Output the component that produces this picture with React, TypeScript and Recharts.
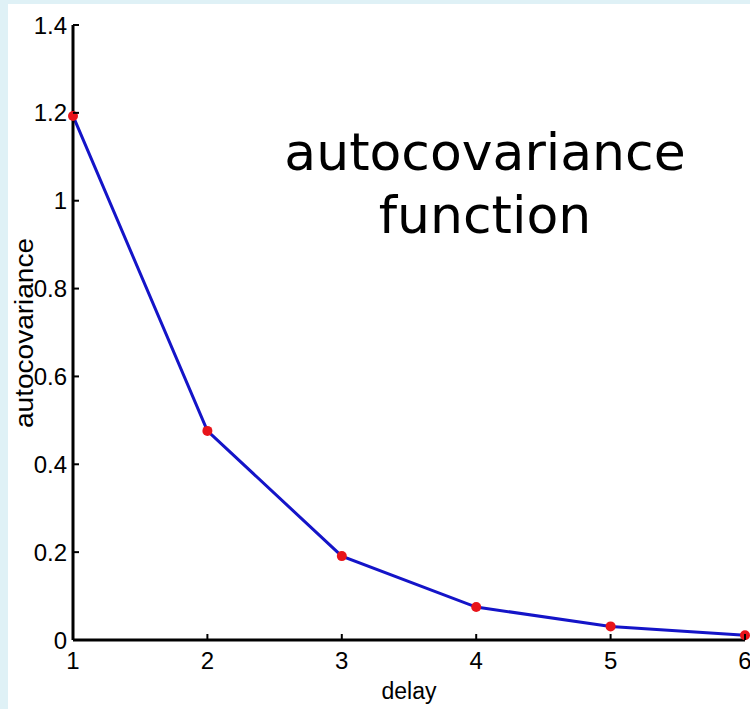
import React from 'react';
import { LineChart, Line, XAxis, YAxis } from 'recharts';

const delays = [1, 2, 3, 4, 5, 6];
const autocov = [1.193, 0.476, 0.191, 0.075, 0.031, 0.011];
const xTicks = [1, 2, 3, 4, 5, 6];
const yTicks = [0, 0.2, 0.4, 0.6, 0.8, 1, 1.2, 1.4];
const xLabel = 'delay';
const yLabel = 'autocovariance';
const annotationLines = ['autocovariance', 'function'];

const data = delays.map((d, i) => ({ delay: d, value: autocov[i] }));

const TICK_LEN = 6;
const tickFont = {
  fontFamily: '"Liberation Sans", Arial, sans-serif',
  fontSize: 24,
  fill: '#000',
};

const BottomTick = (props: any) => {
  const { x, y, payload } = props;
  return (
    <g>
      <line x1={x} x2={x} y1={y} y2={y - TICK_LEN} stroke="#000" strokeWidth={2} />
      <text x={x} y={y + 29} textAnchor="middle" {...tickFont}>
        {String(payload.value)}
      </text>
    </g>
  );
};

const TopTick = (props: any) => {
  const { x, y } = props;
  return <line x1={x} x2={x} y1={y} y2={y + TICK_LEN} stroke="#000" strokeWidth={2} />;
};

const LeftTick = (props: any) => {
  const { x, y, payload } = props;
  return (
    <g>
      <line x1={x} x2={x + TICK_LEN} y1={y} y2={y} stroke="#000" strokeWidth={2} />
      <text x={x - 6} y={y + 8.5} textAnchor="end" {...tickFont}>
        {String(payload.value)}
      </text>
    </g>
  );
};

const RightTick = (props: any) => {
  const { x, y } = props;
  return <line x1={x} x2={x - TICK_LEN} y1={y} y2={y} stroke="#000" strokeWidth={2} />;
};

export default function App() {
  return (
    <div
      style={{
        position: 'absolute',
        left: 0,
        top: 0,
        width: 750,
        height: 709,
        background: '#dff1f6',
        overflow: 'hidden',
      }}
    >
      <div
        style={{
          position: 'absolute',
          left: 8,
          top: 4,
          width: 742,
          height: 705,
          background: '#ffffff',
        }}
      />
      <div style={{ position: 'absolute', left: 0, top: 0 }}>
        <LineChart
          width={750}
          height={709}
          data={data}
          margin={{ top: 25, right: 5, bottom: 0, left: 8 }}
        >
          <XAxis
            xAxisId="bottom"
            dataKey="delay"
            type="number"
            domain={[1, 6]}
            ticks={xTicks}
            interval={0}
            height={69}
            tickSize={0}
            tickMargin={0}
            tickLine={false}
            axisLine={{ stroke: '#000', strokeWidth: 3 }}
            tick={<BottomTick />}
          />
          <XAxis
            xAxisId="top"
            orientation="top"
            dataKey="delay"
            type="number"
            domain={[1, 6]}
            ticks={xTicks}
            interval={0}
            height={0}
            tickSize={0}
            tickMargin={0}
            tickLine={false}
            axisLine={{ stroke: '#000', strokeWidth: 3 }}
            tick={<TopTick />}
          />
          <YAxis
            yAxisId="left"
            type="number"
            domain={[0, 1.4]}
            ticks={yTicks}
            interval={0}
            width={65}
            tickSize={0}
            tickMargin={0}
            tickLine={false}
            axisLine={{ stroke: '#000', strokeWidth: 3 }}
            tick={<LeftTick />}
          />
          <YAxis
            yAxisId="right"
            orientation="right"
            type="number"
            domain={[0, 1.4]}
            ticks={yTicks}
            interval={0}
            width={0}
            tickSize={0}
            tickMargin={0}
            tickLine={false}
            axisLine={{ stroke: '#000', strokeWidth: 3 }}
            tick={<RightTick />}
          />
          <Line
            xAxisId="bottom"
            yAxisId="left"
            type="linear"
            dataKey="value"
            stroke="#1414c8"
            strokeWidth={3}
            dot={{ r: 5, fill: '#e8141a', stroke: 'none' }}
            activeDot={false}
            isAnimationActive={false}
          />
        </LineChart>
      </div>
      <svg
        width={750}
        height={709}
        style={{ position: 'absolute', left: 0, top: 0, pointerEvents: 'none' }}
      >
        <text
          x={409}
          y={699}
          textAnchor="middle"
          fontFamily='"Liberation Sans", Arial, sans-serif'
          fontSize={23}
          fill="#000"
        >
          {xLabel}
        </text>
        <text
          transform="translate(33, 333) rotate(-90)"
          textAnchor="middle"
          fontFamily='"Liberation Sans", Arial, sans-serif'
          fontSize={25}
          textLength={190}
          lengthAdjust="spacingAndGlyphs"
          fill="#000"
        >
          {yLabel}
        </text>
        {annotationLines.map((line, i) => (
          <text
            key={line}
            x={485}
            y={170 + i * 63}
            textAnchor="middle"
            fontFamily='"DejaVu Sans", Verdana, sans-serif'
            fontSize={52}
            fill="#000"
          >
            {line}
          </text>
        ))}
      </svg>
    </div>
  );
}
